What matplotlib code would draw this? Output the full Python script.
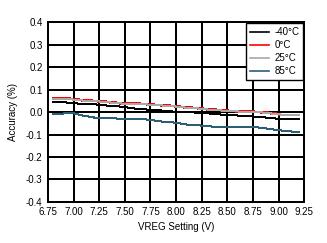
import matplotlib
matplotlib.use("Agg")
import matplotlib.pyplot as plt

# VREG setting (V)
vreg = [6.8, 6.9, 7.0, 7.1, 7.2, 7.3, 7.4, 7.5, 7.6, 7.7, 7.8, 7.9, 8.0,
        8.1, 8.2, 8.3, 8.4, 8.5, 8.6, 8.7, 8.8, 8.9, 9.0, 9.1, 9.2]

# accuracy (%) per temperature
acc_m40 = [0.044, 0.044, 0.040, 0.036, 0.035, 0.030, 0.028, 0.022, 0.016, 0.012,
           0.009, 0.006, 0.001, 0.000, -0.002, -0.005, -0.009, -0.013, -0.015, -0.018,
           -0.021, -0.025, -0.030, -0.032, -0.032]
acc_0 = [0.062, 0.062, 0.058, 0.052, 0.050, 0.047, 0.042, 0.038, 0.038, 0.036,
         0.032, 0.030, 0.026, 0.021, 0.018, 0.013, 0.010, 0.006, 0.004, 0.002,
         0.001, -0.003, -0.009]
acc_25 = [0.060, 0.060, 0.056, 0.051, 0.049, 0.046, 0.041, 0.037, 0.037, 0.035,
          0.031, 0.029, 0.025, 0.020, 0.017, 0.012, 0.009, 0.005, 0.003, 0.001,
          0.000, -0.004, -0.010, -0.013, -0.013]
acc_85 = [-0.010, -0.006, -0.005, -0.016, -0.024, -0.025, -0.028, -0.030, -0.030, -0.032,
          -0.038, -0.044, -0.047, -0.055, -0.058, -0.062, -0.066, -0.068, -0.068, -0.067,
          -0.068, -0.074, -0.080, -0.086, -0.087]

labels = ["-40\u00b0C", "0\u00b0C", "25\u00b0C", "85\u00b0C"]
xticks = [6.75, 7.00, 7.25, 7.50, 7.75, 8.00, 8.25, 8.50, 8.75, 9.00, 9.25]
yticks = [-0.4, -0.3, -0.2, -0.1, 0.0, 0.1, 0.2, 0.3, 0.4]

plt.rcParams['font.family'] = ['Liberation Sans', 'DejaVu Sans']
plt.rcParams['font.size'] = 7

fig = plt.figure(figsize=(3.27, 2.43), dpi=100)
ax = fig.add_axes([0.147, 0.169, 0.783, 0.739])

ax.plot(vreg, acc_m40, color='black', lw=0.72, label=labels[0], antialiased=False)
ax.plot(vreg[:len(acc_0)], acc_0, color='#ff0000', lw=1.2, label=labels[1],
        antialiased=False, zorder=3)
ax.plot(vreg, acc_25, color='#a8a8a8', lw=0.72, label=labels[2], antialiased=False,
        zorder=3.5)
ax.plot(vreg, acc_85, color='#2a5f78', lw=0.72, label=labels[3], antialiased=False)

ax.set_xlim(6.75, 9.25)
ax.set_ylim(-0.4, 0.4)
ax.set_xticks(xticks)
ax.set_yticks(yticks)
ax.set_xticklabels([f"{v:.2f}" for v in xticks])
ax.set_yticklabels([f"{v:.1f}" for v in yticks])
ax.tick_params(length=0, pad=4)
ax.grid(True, color='black', lw=1.2, antialiased=False)
ax.set_axisbelow(True)
for s in ax.spines.values():
    s.set_linewidth(1.2)
    s.set_antialiased(False)

ax.set_xlabel("VREG Setting (V)", labelpad=3)
ax.set_ylabel("Accuracy (%)", labelpad=6)

leg = ax.legend(loc='upper right', fancybox=False, framealpha=1, edgecolor='black',
                borderaxespad=0.1, handlelength=2.0, labelspacing=0.3, handletextpad=0.5,
                borderpad=0.4)
leg.get_frame().set_linewidth(1)
for ln in leg.get_lines():
    ln.set_linewidth(1.2)

fig.savefig("out.png", dpi=100)
